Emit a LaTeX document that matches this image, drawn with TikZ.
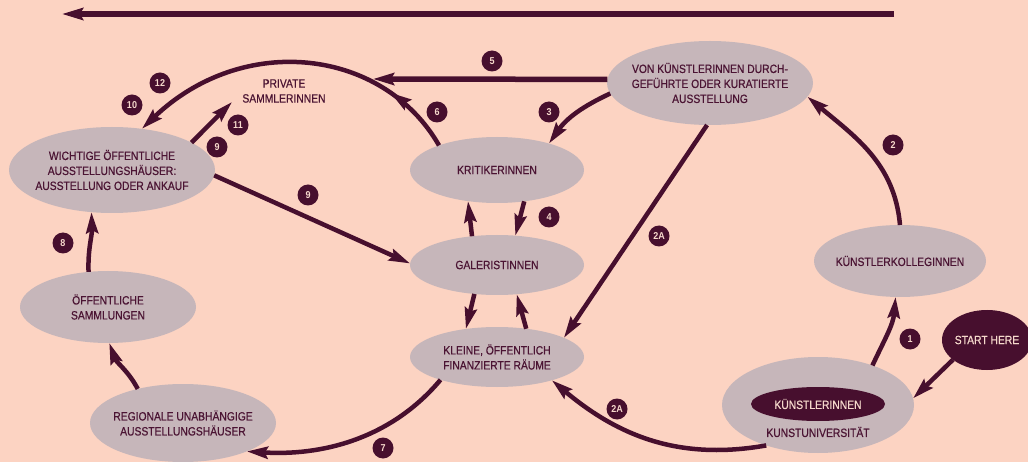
\documentclass[tikz,border=0pt]{standalone}
\usepackage{fontspec}
\setmainfont{Liberation Sans}
\newfontfamily\nodefont{Liberation Sans}[FakeStretch=0.86,FakeBold=0.6]
\newfontfamily\badgefont{Liberation Sans}[FakeStretch=0.9]
\usetikzlibrary{shapes.geometric,arrows.meta,decorations.markings}
\definecolor{bg}{HTML}{FCD3C2}
\definecolor{blob}{HTML}{C6B6BA}
\definecolor{ink}{HTML}{470F2E}
\definecolor{txt}{HTML}{4B1433}
\definecolor{pale}{HTML}{F6D9CC}
\tikzset{headtip/.tip={Stealth[length=21pt,width=12pt,inset=3pt]}}
\begin{document}
\begin{tikzpicture}[x=1pt,y=-1pt,
  blobnode/.style={ellipse, fill=blob, inner sep=0pt, outer sep=0pt},
  darknode/.style={ellipse, fill=ink, inner sep=0pt, outer sep=0pt},
  intext/.style={inner sep=0pt, text=txt, align=center, font=\nodefont\fontsize{12}{15}\selectfont},
  lighttext/.style={intext, text=pale},
  conn/.style={draw=ink, line width=4.5pt, -{headtip}},
  thickconn/.style={conn, line width=5.5pt},
  badge/.style={circle, fill=ink, text=pale, minimum size=21pt, inner sep=0pt, font=\badgefont\bfseries\fontsize{10}{10}\selectfont},
]
\fill[bg] (0,0) rectangle (1028,462);
\useasboundingbox (0,0) rectangle (1028,462);

% nodes
\node[blobnode, minimum width=206pt, minimum height=84pt, label={[intext]center:{VON KÜNSTLERINNEN DURCH-\\GEFÜHRTE ODER KURATIERTE\\AUSSTELLUNG}}] (von) at (710,83) {};
\node[blobnode, minimum width=174pt, minimum height=66pt, label={[intext]center:KRITIKERINNEN}] (krit) at (497,170) {};
\node[blobnode, minimum width=174pt, minimum height=60pt, label={[intext]center:GALERISTINNEN}] (gal) at (497,265) {};
\node[blobnode, minimum width=174pt, minimum height=60pt, label={[intext]center:{KLEINE, ÖFFENTLICH\\FINANZIERTE RÄUME}}] (klein) at (497,357) {};
\node[blobnode, minimum width=206pt, minimum height=86pt, label={[intext]center:{WICHTIGE ÖFFENTLICHE\\AUSSTELLUNGSHÄUSER:\\AUSSTELLUNG ODER ANKAUF}}] (wicht) at (112,170) {};
\node[intext] (priv) at (284,91) {PRIVATE\\SAMMLERINNEN};
\node[blobnode, minimum width=176pt, minimum height=72pt, label={[intext]center:{ÖFFENTLICHE\\SAMMLUNGEN}}] (oeff) at (108,307) {};
\node[blobnode, minimum width=186pt, minimum height=78pt, label={[intext]center:{REGIONALE UNABHÄNGIGE\\AUSSTELLUNGSHÄUSER}}] (reg) at (183,423) {};
\node[blobnode, minimum width=172pt, minimum height=72pt, label={[intext]center:KÜNSTLERKOLLEGINNEN}] (koll) at (900,261) {};
\node[darknode, minimum width=90pt, minimum height=60pt, label={[lighttext]center:START HERE}] (start) at (987,340) {};
\node[blobnode, minimum width=192pt, minimum height=96pt] (uni) at (818,405) {};
\node[darknode, minimum width=134pt, minimum height=34pt, label={[lighttext]center:KÜNSTLERINNEN}] (kin) at (818,404) {};
\node[intext] (unilabel) at (818,432) {KUNSTUNIVERSITÄT};

% free ends
\coordinate (topR) at (894,14);
\coordinate (topL) at (62,14);
\coordinate (p5) at (373,79);
\coordinate (p11) at (232,102);

% connectors
\draw[thickconn] (topR) -- (topL);
\draw[thickconn] (von.178) -- (p5);
\draw[conn] (uni.36) to[out=65,in=-95] (koll.-97);
\draw[conn] (koll.90) to[out=95,in=-40] (von.-8);
\draw[conn] (start.210) -- (uni.4);
\draw[conn] (von.186) to[out=205,in=55] (krit.27);
\draw[conn] (krit.-49) -- (gal.58);
\draw[conn] (gal.131) -- (krit.-133);
\draw[conn, postaction={decorate}, decoration={markings, mark=at position 0.21 with {\arrow{headtip}}}]
  (krit.157) .. controls (383,48) and (243,32) .. (wicht.54);
\draw[conn] (klein.202) .. controls (390,440) and (320,456) .. (reg.-24);
\draw[conn] (oeff.119) to[out=92,in=-88] (wicht.-116);
\draw[conn] (reg.143) to[out=118,in=-70] (oeff.-88);
\draw[conn] (wicht.-3) -- (gal.179);
\draw[conn] (wicht.19) -- (p11);
\draw[conn] (von.-94) -- (klein.16);
\draw[conn] (uni.218) to[out=190,in=-40] (klein.-23);
\draw[conn] (gal.-128) -- (klein.138);
\draw[conn] (klein.44) -- (gal.-56);

% badges
\node[badge] (b1) at (910,339) {1};
\node[badge] (b2) at (893,145) {2};
\node[badge] (b3) at (549,112) {3};
\node[badge] (b4) at (549,217) {4};
\node[badge] (b5) at (492,61) {5};
\node[badge] (b6) at (437,112) {6};
\node[badge] (b7) at (383,448) {7};
\node[badge] (b8) at (63,243) {8};
\node[badge] (b9a) at (217,147) {9};
\node[badge] (b9b) at (308,195) {9};
\node[badge] (b10) at (132,105) {10};
\node[badge] (b11) at (238,125) {11};
\node[badge] (b12) at (160,83) {12};
\node[badge] (b2a) at (659,236) {2A};
\node[badge] (b2b) at (617,409) {2A};
\end{tikzpicture}
\end{document}
